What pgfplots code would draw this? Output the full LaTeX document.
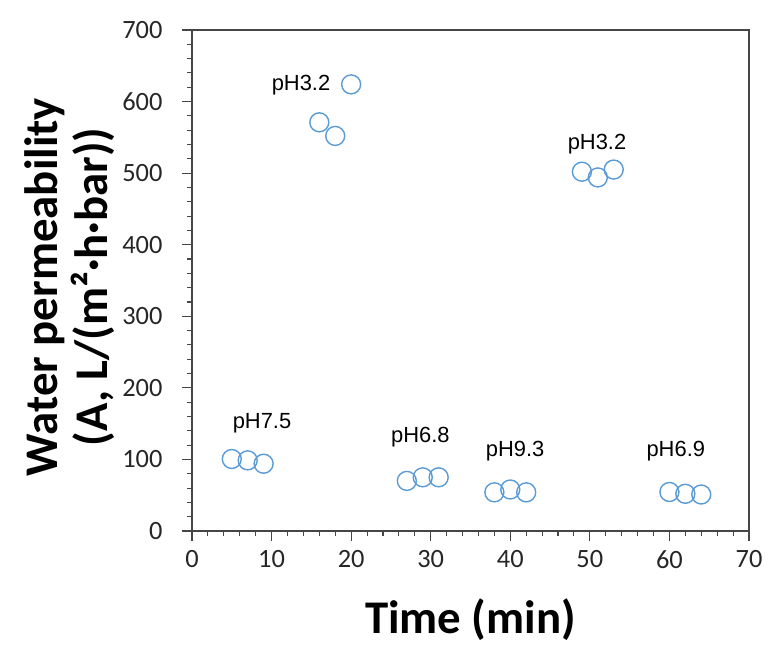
\documentclass[border=0pt]{standalone}
\usepackage{fontspec}
\setmainfont{Carlito}
\newfontfamily\arialfont{Liberation Sans}
\usepackage{pgfplots}
\pgfplotsset{compat=1.18}
\definecolor{markblue}{RGB}{91,155,213}
\definecolor{axisgray}{RGB}{70,70,70}

\begin{document}
\begin{tikzpicture}
\begin{axis}[
  scale only axis,
  width=557bp, height=501bp,
  xmin=0, xmax=70, ymin=0, ymax=700,
  xtick distance=10, ytick distance=100,
  minor x tick num=4, minor y tick num=4,
  tick align=outside,
  xtick pos=lower, ytick pos=left,
  major tick length=10bp, minor tick length=5bp,
  axis line style={axisgray, line width=1.4bp},
  every tick/.style={axisgray, line width=1.1bp},
  tick label style={font=\fontsize{26.5}{30}\selectfont, text=black!85},
  /pgf/number format/assume math mode=true,
  yticklabel style={xshift=-16bp},
  xticklabel style={yshift=-6bp},
  xlabel={Time (min)},
  ylabel={Water permeability\\(A, L/(m²·h·bar))},
  xlabel style={font=\fontsize{47}{50}\selectfont\bfseries,
    at={(axis description cs:0.5,0)}, anchor=base, yshift=-102bp},
  ylabel style={font=\fontsize{47}{50}\selectfont\bfseries, align=center,
    at={(axis description cs:-0.219,0.487)}, anchor=center},
]
\addplot[only marks, mark=o, mark size=9.5bp, markblue, line width=1.4bp]
  coordinates {
  (5,100.6) (7,98.7) (9,94)
  (16,571) (18,552) (20,624)
  (27,70) (29,75) (31,75)
  (38,54) (40,58) (42,54)
  (49,502) (51,494) (53,505)
  (60,54.5) (62,52) (64,51)
  };
\node[font=\arialfont\fontsize{22}{26}\selectfont] at (axis cs:8.8,150) {pH7.5};
\node[font=\arialfont\fontsize{22}{26}\selectfont] at (axis cs:13.7,623) {pH3.2};
\node[font=\arialfont\fontsize{22}{26}\selectfont] at (axis cs:28.7,131) {pH6.8};
\node[font=\arialfont\fontsize{22}{26}\selectfont] at (axis cs:40.6,111) {pH9.3};
\node[font=\arialfont\fontsize{22}{26}\selectfont] at (axis cs:50.9,541) {pH3.2};
\node[font=\arialfont\fontsize{22}{26}\selectfont] at (axis cs:60.8,112) {pH6.9};
\end{axis}
\pgfresetboundingbox
\path[use as bounding box] ([shift={(-192bp,-129bp)}]current axis.south west)
  rectangle ([shift={(28bp,30bp)}]current axis.north east);
\end{tikzpicture}
\end{document}
